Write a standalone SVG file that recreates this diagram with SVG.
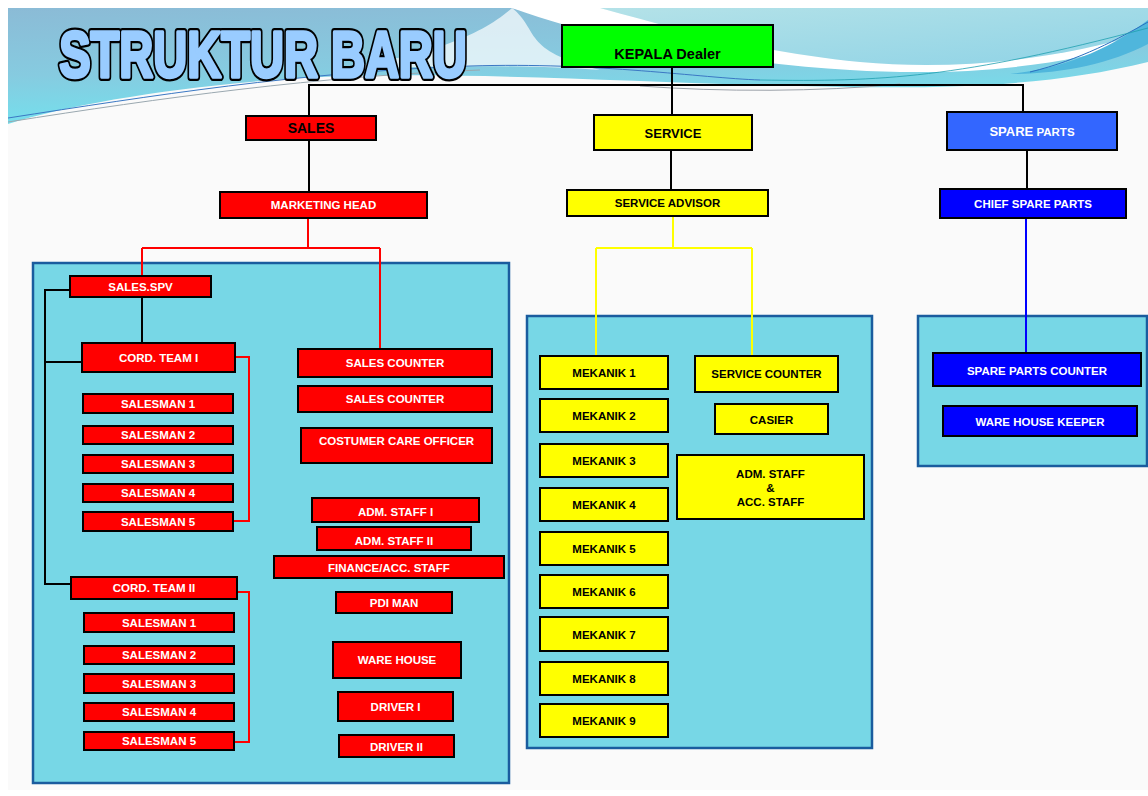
<svg xmlns="http://www.w3.org/2000/svg" width="1148" height="796" viewBox="0 0 1148 796">
<defs>
<linearGradient id="gL" x1="0" y1="0" x2="0.25" y2="1">
<stop offset="0" stop-color="#8bbbd6"/>
<stop offset="0.55" stop-color="#86cbe0"/>
<stop offset="1" stop-color="#72e2ee"/>
</linearGradient>
<linearGradient id="gR" x1="0" y1="0" x2="1" y2="1">
<stop offset="0" stop-color="#b4e2e8"/>
<stop offset="1" stop-color="#8fd3e6"/>
</linearGradient>
<style>
.bx{stroke:#000;stroke-width:2}
.r{fill:#ff0000}.y{fill:#ffff00}.b{fill:#0000ff}.g{fill:#00ff00}.lb{fill:#3366ff}
text{font-family:"Liberation Sans",Arial,sans-serif;font-weight:bold;text-anchor:middle}
.w{fill:#fff}.k{fill:#000}
.s{font-size:11.5px}
.pn{fill:#77d7e6;stroke:#1a5c9e;stroke-width:2.5}
.cb{stroke:#000;stroke-width:2;fill:none}
.cr{stroke:#ff0000;stroke-width:2;fill:none}
.cy{stroke:#ffff00;stroke-width:2;fill:none}
.cu{stroke:#0000ff;stroke-width:2;fill:none}
.tt{font-size:64px;stroke-linejoin:round}
</style>
</defs>
<rect x="0" y="0" width="1148" height="796" fill="#ffffff"/>
<rect x="8" y="8" width="1140" height="782" fill="#fafafa"/>
<g id="background">
<path d="M8,8 H512 C600,30 700,58 850,68 C950,74 1050,68 1148,38 V62 C1050,86 950,90 800,86 C620,82 450,70 300,78 C180,86 70,104 8,124 Z" fill="url(#gL)"/>
<path d="M512,8 C480,36 430,56 330,70 C420,66 520,64 600,70 C520,50 540,30 512,8 Z" fill="#ffffff" opacity="0.7"/>
<path d="M512,8 H600 C680,30 760,52 860,62 C950,70 1050,62 1148,32 V40 C1050,70 950,76 850,70 C720,62 600,40 512,8 Z" fill="#ffffff"/>
<path d="M600,8 H1148 V32 C1050,62 950,70 860,62 C760,52 680,30 600,8 Z" fill="url(#gR)"/>
<path d="M1010,74 C1070,68 1115,45 1148,20 V44 C1110,64 1060,74 1010,74 Z" fill="#4fb6dc"/>
<path d="M8,118 C150,96 300,72 470,66 C600,62 700,78 760,80" fill="none" stroke="#3b78c4" stroke-width="1"/>
<path d="M8,122 C160,98 320,76 480,70" fill="none" stroke="#9aa8b0" stroke-width="1"/>
<path d="M640,86 C720,92 820,92 900,84" fill="none" stroke="#9aa0a8" stroke-width="1"/>
<path d="M1030,72 C1080,60 1120,38 1148,22" fill="none" stroke="#2a6fc0" stroke-width="1"/>
<path d="M760,80 C880,82 960,78 1148,28" fill="none" stroke="#20a0b0" stroke-width="0.8"/>
</g>
<g id="title" transform="translate(263,77) scale(0.735,1)">
<text class="tt" x="0" y="0" fill="#000" stroke="#000" stroke-width="8">STRUKTUR BARU</text>
<text class="tt" x="0" y="0" fill="#99ccff" stroke="#99ccff" stroke-width="3.5">STRUKTUR BARU</text>
</g>
<rect class="pn" x="33" y="263" width="476" height="520"/>
<rect class="pn" x="527" y="316" width="345" height="432"/>
<rect class="pn" x="918" y="316" width="229" height="150"/>
<g id="connectors">
<path class="cb" d="M672,67 V115 M309,116 V85 H1023 V112 M309,140 V192 M671,151 V190 M1027,151 V189"/>
<path class="cb" d="M142,297 V343 M70,290 H45 V584 H71 M45,362 H82"/>
<path class="cr" d="M308,218 V248 M142,248 H380 M142,248 V276 M380,248 V349"/>
<path class="cr" d="M235,357 H249 V521 H233 M237,592 H249 V742 H234"/>
<path class="cy" d="M673,216 V248 M596,248 H752 M596,248 V356 M752,248 V356"/>
<path class="cu" d="M1026,219 V353"/>
</g>
<g id="kepala"><rect class="bx g" x="562" y="25" width="211" height="42"/><text class="k" x="667.5" y="59" font-size="14.5">KEPALA Dealer</text></g>
<g id="sales"><rect class="bx r" x="246" y="116" width="130" height="24"/><text class="k" x="311" y="133" font-size="14">SALES</text></g>
<g id="service"><rect class="bx y" x="594" y="115" width="158" height="35"/><text class="k" x="673" y="137.5" font-size="13">SERVICE</text></g>
<g id="spareparts"><rect class="bx lb" x="947" y="112" width="170" height="38"/><text class="w" x="1032" y="136"><tspan font-size="13">SPARE</tspan><tspan font-size="11.5"> PARTS</tspan></text></g>
<g id="marketinghead"><rect class="bx r" x="220" y="192" width="207" height="26"/><text class="w s" x="323.5" y="209">MARKETING HEAD</text></g>
<g id="serviceadvisor"><rect class="bx y" x="567" y="190" width="201" height="26"/><text class="k s" x="667.5" y="207">SERVICE ADVISOR</text></g>
<g id="chiefspareparts"><rect class="bx b" x="940" y="189" width="186" height="29"/><text class="w s" x="1033" y="207.5">CHIEF SPARE PARTS</text></g>
<g id="salesspv"><rect class="bx r" x="70" y="276" width="141" height="21"/><text class="w s" x="140.5" y="290.5">SALES.SPV</text></g>
<g id="cordteam1"><rect class="bx r" x="82" y="343" width="153" height="29"/><text class="w s" x="158.5" y="361.5">CORD. TEAM I</text></g>
<g id="t1salesman1"><rect class="bx r" x="83" y="394" width="150" height="19"/><text class="w s" x="158" y="407.5">SALESMAN 1</text></g>
<g id="t1salesman2"><rect class="bx r" x="83" y="426" width="150" height="18"/><text class="w s" x="158" y="439">SALESMAN 2</text></g>
<g id="t1salesman3"><rect class="bx r" x="83" y="455" width="150" height="18"/><text class="w s" x="158" y="468">SALESMAN 3</text></g>
<g id="t1salesman4"><rect class="bx r" x="83" y="484" width="150" height="18"/><text class="w s" x="158" y="497">SALESMAN 4</text></g>
<g id="t1salesman5"><rect class="bx r" x="83" y="512" width="150" height="19"/><text class="w s" x="158" y="525.5">SALESMAN 5</text></g>
<g id="cordteam2"><rect class="bx r" x="71" y="577" width="166" height="22"/><text class="w s" x="154" y="592">CORD. TEAM II</text></g>
<g id="t2salesman1"><rect class="bx r" x="84" y="613" width="150" height="19"/><text class="w s" x="159" y="626.5">SALESMAN 1</text></g>
<g id="t2salesman2"><rect class="bx r" x="84" y="646" width="150" height="18"/><text class="w s" x="159" y="659">SALESMAN 2</text></g>
<g id="t2salesman3"><rect class="bx r" x="84" y="674" width="150" height="19"/><text class="w s" x="159" y="687.5">SALESMAN 3</text></g>
<g id="t2salesman4"><rect class="bx r" x="84" y="703" width="150" height="18"/><text class="w s" x="159" y="716">SALESMAN 4</text></g>
<g id="t2salesman5"><rect class="bx r" x="84" y="732" width="150" height="18"/><text class="w s" x="159" y="745">SALESMAN 5</text></g>
<g id="salescounter1"><rect class="bx r" x="298" y="349" width="194" height="28"/><text class="w s" x="395" y="367">SALES COUNTER</text></g>
<g id="salescounter2"><rect class="bx r" x="298" y="386" width="194" height="26"/><text class="w s" x="395" y="403">SALES COUNTER</text></g>
<g id="customercare"><rect class="bx r" x="301" y="428" width="191" height="35"/><text class="w s" x="396.5" y="445">COSTUMER CARE OFFICER</text></g>
<g id="admstaff1"><rect class="bx r" x="312" y="498" width="167" height="24"/><text class="w s" x="395.5" y="516">ADM. STAFF I</text></g>
<g id="admstaff2"><rect class="bx r" x="317" y="527" width="154" height="23"/><text class="w s" x="394" y="544.5">ADM. STAFF II</text></g>
<g id="finance"><rect class="bx r" x="274" y="556" width="230" height="22"/><text class="w s" x="389" y="572">FINANCE/ACC. STAFF</text></g>
<g id="pdiman"><rect class="bx r" x="336" y="592" width="116" height="21"/><text class="w s" x="394" y="607">PDI MAN</text></g>
<g id="warehouse"><rect class="bx r" x="333" y="642" width="128" height="36"/><text class="w s" x="397" y="664">WARE HOUSE</text></g>
<g id="driver1"><rect class="bx r" x="338" y="692" width="115" height="29"/><text class="w s" x="395.5" y="711">DRIVER I</text></g>
<g id="driver2"><rect class="bx r" x="339" y="735" width="115" height="22"/><text class="w s" x="396.5" y="750.5">DRIVER II</text></g>
<g id="mekanik1"><rect class="bx y" x="540" y="356" width="128" height="33"/><text class="k s" x="604" y="377">MEKANIK 1</text></g>
<g id="mekanik2"><rect class="bx y" x="540" y="399" width="128" height="33"/><text class="k s" x="604" y="420">MEKANIK 2</text></g>
<g id="mekanik3"><rect class="bx y" x="540" y="444" width="128" height="33"/><text class="k s" x="604" y="465">MEKANIK 3</text></g>
<g id="mekanik4"><rect class="bx y" x="540" y="488" width="128" height="33"/><text class="k s" x="604" y="509">MEKANIK 4</text></g>
<g id="mekanik5"><rect class="bx y" x="540" y="532" width="128" height="33"/><text class="k s" x="604" y="553">MEKANIK 5</text></g>
<g id="mekanik6"><rect class="bx y" x="540" y="575" width="128" height="33"/><text class="k s" x="604" y="596">MEKANIK 6</text></g>
<g id="mekanik7"><rect class="bx y" x="540" y="617" width="128" height="34"/><text class="k s" x="604" y="638.5">MEKANIK 7</text></g>
<g id="mekanik8"><rect class="bx y" x="540" y="662" width="128" height="33"/><text class="k s" x="604" y="683">MEKANIK 8</text></g>
<g id="mekanik9"><rect class="bx y" x="540" y="704" width="128" height="33"/><text class="k s" x="604" y="725">MEKANIK 9</text></g>
<g id="servicecounter"><rect class="bx y" x="695" y="356" width="143" height="36"/><text class="k s" x="766.5" y="378">SERVICE COUNTER</text></g>
<g id="casier"><rect class="bx y" x="715" y="404" width="113" height="30"/><text class="k s" x="771.5" y="423.5">CASIER</text></g>
<g id="admaccstaff"><rect class="bx y" x="677" y="455" width="187" height="64"/><text class="k s" x="770.5" y="478">ADM. STAFF</text><text class="k s" x="770.5" y="492">&amp;</text><text class="k s" x="770.5" y="506">ACC. STAFF</text></g>
<g id="sparepartscounter"><rect class="bx b" x="933" y="353" width="208" height="33"/><text class="w s" x="1037" y="374.5">SPARE PARTS COUNTER</text></g>
<g id="warehousekeeper"><rect class="bx b" x="943" y="406" width="194" height="30"/><text class="w s" x="1040" y="425.5">WARE HOUSE KEEPER</text></g>
</svg>
